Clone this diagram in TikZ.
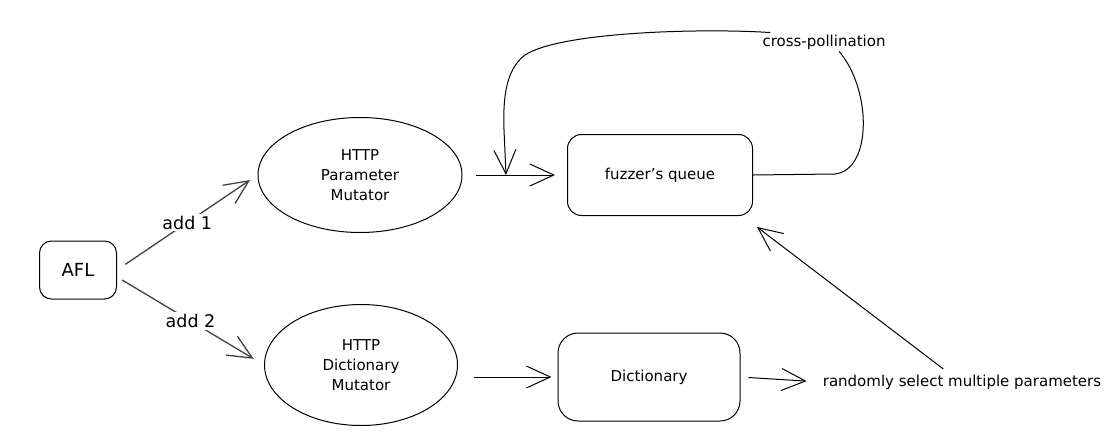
\documentclass[tikz,border=0pt]{standalone}
\usepackage{fontspec}
\setmainfont{DejaVu Sans}
\usepackage{tikz}
\usetikzlibrary{shapes.geometric, arrows.meta}
\usetikzlibrary{calc}
\tikzstyle{box} = [draw, line width=1pt, rounded corners=14pt, inner sep=0pt, font=\fontsize{15}{20}\selectfont]
\tikzstyle{blob} = [draw, ellipse, line width=1pt, inner sep=0pt, align=center, font=\fontsize{15}{20}\selectfont]
\tikzstyle{tag} = [inner sep=2pt, text=black, font=\fontsize{15}{20}\selectfont]
\tikzstyle{arrow} = [line width=1pt, -{Straight Barb[length=24pt,width=22pt]}]

\begin{document}
\begin{tikzpicture}[x=1pt, y=-1pt]
\useasboundingbox (0,0) rectangle (1118,442);

% shapes
\node[box, minimum width=77pt, minimum height=58pt, rounded corners=12pt,
      font=\fontsize{18}{20}\selectfont] (afl) at (78,270) {AFL};
\node[blob, minimum width=204pt, minimum height=115pt] (pm) at (360,175) {HTTP\\Parameter\\Mutator};
\node[blob, minimum width=193pt, minimum height=121pt] (dm) at (361,365) {HTTP\\Dictionary\\Mutator};
\node[box, minimum width=185pt, minimum height=81pt] (queue) at (660,175) {fuzzer's queue};
\node[box, minimum width=182pt, minimum height=88pt, rounded corners=20pt] (dict) at (649,377) {Dictionary};
\node[tag] (sel) at (962,382) {randomly select multiple parameters};
\coordinate (merge) at (506,175);
\coordinate (qtip) at (757,227);

% AFL feeds both mutators
\draw[arrow, black!75, line width=1.3pt, shorten <=10pt, shorten >=9pt] (afl.east) -- (pm.west)
	node[midway, fill=white, tag, font=\fontsize{17.5}{20}\selectfont] (add1) {add 1};
\draw[arrow, black!75, line width=1.3pt, shorten <=6pt, shorten >=12pt] (afl.-10) -- (dm.west)
	node[midway, fill=white, tag, font=\fontsize{17.5}{20}\selectfont] (add2) {add 2};

\draw[arrow, shorten <=13pt, shorten >=12pt] (pm.east) -- (queue.west);
\draw[arrow, shorten <=16pt, shorten >=6pt] (dm.east |- dict.west) -- (dict.west);
\draw[arrow, shorten <=8pt, shorten >=14pt] (dict.east) -- (sel.west);
\draw[arrow, shorten <=6pt] ([xshift=-14pt]sel.north) -- (qtip);

% loop back into the queue
\node[tag] (cp) at (824,42) {cross-pollination};
\draw[arrow] (queue.east) -- (835,174) .. controls (872,170) and (872,90) .. (cp.-32)
	(cp.170) .. controls (700,28) and (560,32) .. (525,55)
	.. controls (505,70) and (503,100) .. (504,130) -- (merge);
\end{tikzpicture}
\end{document}
